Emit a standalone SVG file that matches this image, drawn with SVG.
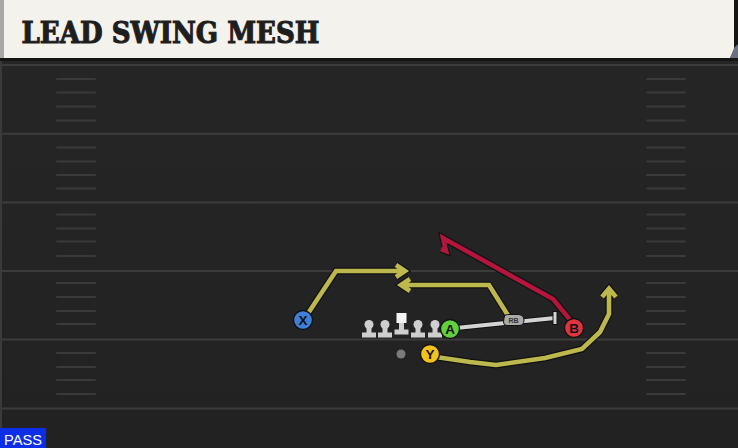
<svg xmlns="http://www.w3.org/2000/svg" width="738" height="448" viewBox="0 0 738 448">
<defs>
<style>
.yl{stroke:#3c3c3c;stroke-width:2;fill:none}
.hm{stroke:#3a3a3a;stroke-width:2;fill:none;stroke-linecap:round}
.rt-o{fill:none;stroke:#111;stroke-width:7;stroke-linejoin:miter;stroke-linecap:butt}
.rt-y{fill:none;stroke:#bcb84d;stroke-width:4.6;stroke-linejoin:miter}
.rt-r{fill:none;stroke:#b3163c;stroke-width:4.6;stroke-linejoin:miter}
.pl{stroke:#111;stroke-width:1.3}
.lbl{font-family:"Liberation Sans","DejaVu Sans",sans-serif;font-weight:bold;font-size:13.5px;fill:#111;text-anchor:middle}
.ol{fill:#cfcfcf}
</style>
<linearGradient id="fg" x1="0" y1="0" x2="0" y2="1">
<stop offset="0" stop-color="#262626"/>
<stop offset="1" stop-color="#222222"/>
</linearGradient>
</defs>
<rect width="738" height="448" fill="url(#fg)"/>
<rect x="0" y="60" width="2" height="388" fill="#3a3a3a"/>
<!-- title bar -->
<g id="title">
<rect x="0" y="0" width="738" height="61" fill="#151515"/>
<polygon points="4,0 734,0 734,50 730,58 4,58" fill="#f4f2ec"/>
<polygon points="734,48 738,44 738,58 730,58" fill="#6a7080"/>
<rect x="0" y="0" width="4" height="58" fill="#a8a8a8"/>
<text x="21.5" y="42.5" font-family="'DejaVu Serif',serif" font-weight="bold" font-size="29.5" fill="#1e1e1e" stroke="#1e1e1e" stroke-width="1.1" textLength="298" lengthAdjust="spacingAndGlyphs">LEAD SWING MESH</text>
</g>
<!-- field -->
<g id="field">
<line class="yl" x1="2" y1="65" x2="738" y2="65"/>
<line class="yl" x1="2" y1="133.7" x2="738" y2="133.7"/>
<line class="yl" x1="2" y1="202.4" x2="738" y2="202.4"/>
<line class="yl" x1="2" y1="271" x2="738" y2="271"/>
<line class="yl" x1="2" y1="339.6" x2="738" y2="339.6"/>
<line class="yl" x1="2" y1="408.5" x2="738" y2="408.5"/>
<g id="hash-left">
<path class="hm" d="M57 79H95M57 92.5H95M57 106.5H95M57 120.5H95M57 147.5H95M57 161.5H95M57 175H95M57 188.5H95M57 214.5H95M57 228.5H95M57 241.5H95M57 256H95M57 283H95M57 297H95M57 311H95M57 324H95M57 353H95M57 367H95M57 380H95M57 394H95"/>
</g>
<g id="hash-right">
<path class="hm" d="M647 79H685M647 92.5H685M647 106.5H685M647 120.5H685M647 147.5H685M647 161.5H685M647 175H685M647 188.5H685M647 214.5H685M647 228.5H685M647 241.5H685M647 256H685M647 283H685M647 297H685M647 311H685M647 324H685M647 353H685M647 367H685M647 380H685M647 394H685"/>
</g>
</g>
<!-- connectors -->
<g id="connectors">
<!-- X route -->
<path class="rt-o" d="M305 318 L336 271 L405 271 M396 265 L405 271 L396 277"/>
<path class="rt-y" d="M305 318 L336 271 L405 271 M396 265 L405 271 L396 277"/>
<!-- mesh route -->
<path class="rt-o" d="M509 317 L489 285 L401 285 M410 279 L401 285 L410 291"/>
<path class="rt-y" d="M509 317 L489 285 L401 285 M410 279 L401 285 L410 291"/>
<!-- Y route -->
<path class="rt-o" d="M436 357 L470 362 L496 365 L545 358 L582 349 L600 332 L609 314 L609 290 M602 297 L609 288.5 L616 297"/>
<path class="rt-y" d="M436 357 L470 362 L496 365 L545 358 L582 349 L600 332 L609 314 L609 290 M602 297 L609 288.5 L616 297"/>
<!-- B route -->
<path class="rt-o" d="M572 322 L553 299 L443 238 L446 251 L441 249"/>
<path class="rt-r" d="M572 322 L553 299 L443 238 L446 251 L441 249"/>
<!-- RB block -->
<line x1="456" y1="328" x2="555" y2="318" stroke="#111" stroke-width="6"/>
<line x1="456" y1="328" x2="555" y2="318" stroke="#d4d4d4" stroke-width="4"/>
<line x1="555" y1="311" x2="555" y2="325" stroke="#111" stroke-width="5"/>
<line x1="555" y1="312" x2="555" y2="324" stroke="#d4d4d4" stroke-width="3"/>
<g id="rb-tag">
<path d="M504 318 Q504 314.5 507.5 314.5 L519 314.5 Q524 315.5 524 320 Q524 325.5 519 325.5 L507 325.5 Q503.5 325.5 503.5 322 Z" fill="#a9a9a9" stroke="#111" stroke-width="1"/>
<text x="513.5" y="323" font-family="'Liberation Sans',sans-serif" font-size="7" font-weight="bold" fill="#333" text-anchor="middle">RB</text>
</g>
</g>
<!-- linemen -->
<g id="ol1"><circle class="ol" cx="369" cy="324.5" r="4.5"/><rect class="ol" x="366.5" y="325" width="5" height="9"/><rect class="ol" x="362" y="332.5" width="14" height="5"/></g>
<g id="ol2"><circle class="ol" cx="385" cy="324.5" r="4.5"/><rect class="ol" x="382.5" y="325" width="5" height="9"/><rect class="ol" x="378" y="332.5" width="14" height="5"/></g>
<g id="center"><rect x="396.5" y="313" width="10" height="10" fill="#f4f4f4"/><rect class="ol" x="399" y="323" width="5" height="8"/><rect class="ol" x="394.5" y="329.5" width="14" height="5"/></g>
<g id="ol4"><circle class="ol" cx="418" cy="324.5" r="4.5"/><rect class="ol" x="415.5" y="325" width="5" height="9"/><rect class="ol" x="411" y="332.5" width="14" height="5"/></g>
<g id="ol5"><circle class="ol" cx="435" cy="324.5" r="4.5"/><rect class="ol" x="432.5" y="325" width="5" height="9"/><rect class="ol" x="428" y="332.5" width="14" height="5"/></g>
<g id="qb"><circle cx="401" cy="354" r="4.5" fill="#7a7a7a"/></g>
<!-- players -->
<g id="X"><circle class="pl" cx="303" cy="320" r="9.5" fill="#3e7fd8"/><text class="lbl" x="303" y="325">X</text></g>
<g id="A"><circle class="pl" cx="450" cy="329" r="9.5" fill="#62cf3c"/><text class="lbl" x="450" y="334">A</text></g>
<g id="B"><circle class="pl" cx="574" cy="328" r="9.5" fill="#e2343f"/><text class="lbl" x="574" y="333">B</text></g>
<g id="Y"><circle class="pl" cx="430" cy="354" r="9.5" fill="#f1c21b"/><text class="lbl" x="430" y="359">Y</text></g>
<!-- play type -->
<g id="pass">
<rect x="0" y="428" width="46" height="20" fill="#0c2ee6"/>
<text x="4" y="444.5" font-family="'Liberation Sans','DejaVu Sans',sans-serif" font-size="15.5" fill="#ffffff" textLength="38" lengthAdjust="spacingAndGlyphs">PASS</text>
</g>
</svg>
